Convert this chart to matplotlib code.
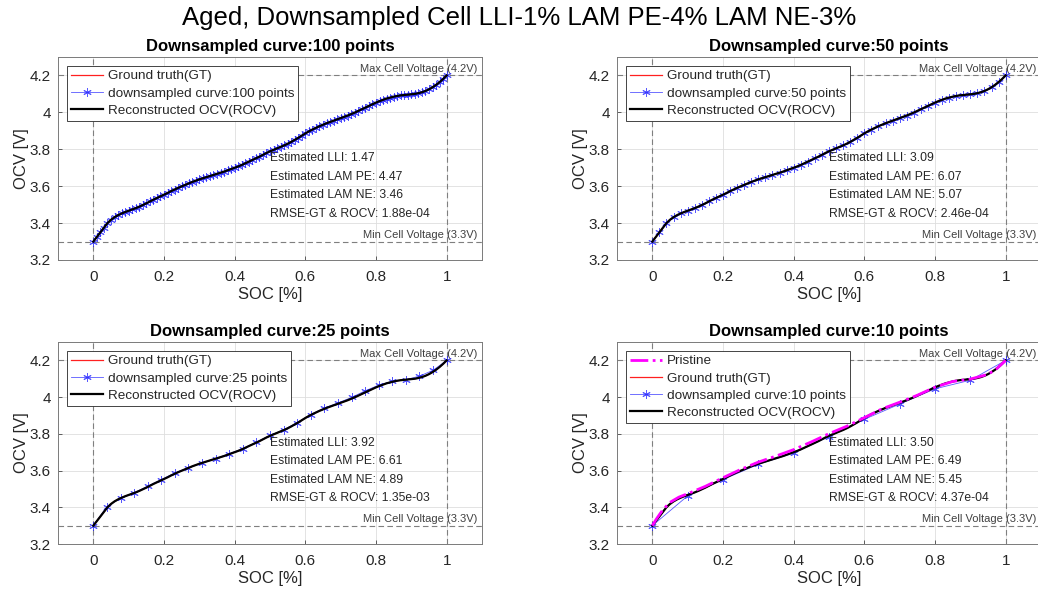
import numpy as np
import matplotlib
matplotlib.use("Agg")
import matplotlib.pyplot as plt
from matplotlib.ticker import FuncFormatter

plt.rcParams['font.family'] = ['Liberation Sans', 'DejaVu Sans']

# ---------------- data ----------------
soc_gt = np.linspace(0, 1, 101)
ocv_gt = [
    3.300, 3.325, 3.350, 3.375, 3.400, 3.418, 3.432, 3.443, 3.452, 3.460,
    3.467, 3.474, 3.481, 3.489, 3.498, 3.507, 3.517, 3.527, 3.536, 3.545,
    3.554, 3.563, 3.573, 3.582, 3.591, 3.599, 3.607, 3.615, 3.623, 3.630,
    3.637, 3.643, 3.649, 3.655, 3.661, 3.667, 3.673, 3.679, 3.686, 3.693,
    3.700, 3.707, 3.715, 3.724, 3.733, 3.742, 3.751, 3.760, 3.770, 3.780,
    3.789, 3.797, 3.805, 3.813, 3.821, 3.830, 3.840, 3.851, 3.862, 3.874,
    3.886, 3.897, 3.907, 3.916, 3.925, 3.933, 3.941, 3.948, 3.955, 3.962,
    3.969, 3.976, 3.983, 3.991, 3.999, 4.008, 4.017, 4.026, 4.035, 4.044,
    4.053, 4.061, 4.068, 4.075, 4.080, 4.085, 4.089, 4.092, 4.094, 4.096,
    4.098, 4.100, 4.104, 4.109, 4.116, 4.125, 4.136, 4.149, 4.164, 4.181,
    4.200,
]

# downsampled curve, 25 points
soc_25 = np.linspace(0, 1, 27)
ocv_25 = [3.300, 3.404, 3.449, 3.479, 3.515, 3.551, 3.587, 3.616, 3.641,
          3.665, 3.692, 3.719, 3.755, 3.791, 3.822, 3.861, 3.905, 3.941,
          3.968, 3.998, 4.034, 4.065, 4.086, 4.095, 4.114, 4.146, 4.200]

# downsampled curve, 10 points
soc_10 = np.linspace(0, 1, 11)
ocv_10 = [3.300, 3.462, 3.551, 3.634, 3.695, 3.785, 3.879, 3.962, 4.045,
          4.092, 4.200]

# pristine curve
soc_pr = [0.0, 0.01, 0.02, 0.03, 0.05, 0.075, 0.10, 0.15, 0.20, 0.25, 0.30,
          0.35, 0.40, 0.45, 0.50, 0.55, 0.60, 0.65, 0.70, 0.75, 0.80, 0.85,
          0.90, 0.95, 0.975, 1.0]
ocv_pr = [3.300, 3.332, 3.360, 3.387, 3.427, 3.455, 3.474, 3.514, 3.561,
          3.606, 3.646, 3.679, 3.714, 3.756, 3.801, 3.841, 3.888, 3.936,
          3.972, 4.010, 4.054, 4.085, 4.098, 4.124, 4.155, 4.200]

titles = ['Downsampled curve:100 points', 'Downsampled curve:50 points',
          'Downsampled curve:25 points', 'Downsampled curve:10 points']
ds_labels = ['downsampled curve:100 points', 'downsampled curve:50 points',
             'downsampled curve:25 points', 'downsampled curve:10 points']
est_lli = [1.47, 3.09, 3.92, 3.50]
est_pe = [4.47, 6.07, 6.61, 6.49]
est_ne = [3.46, 5.07, 4.89, 5.45]
rmse = [1.88e-04, 2.46e-04, 1.35e-03, 4.37e-04]

ds_x = [soc_gt, soc_gt[::2], soc_25, soc_10]
ds_y = [ocv_gt, ocv_gt[::2], ocv_25, ocv_10]

# ---------------- figure ----------------
W, H = 1038, 594
fig = plt.figure(figsize=(W / 100, H / 100), dpi=100)

def px_axes(l, t, r, b):
    return fig.add_axes([l / W, 1 - b / H, (r - l) / W, (b - t) / H])

positions = [(58, 57, 482, 260), (617, 57, 1041, 260),
             (58, 342, 482, 544), (617, 342, 1041, 544)]

fig.text(0.5, 1 - 18 / H, 'Aged, Downsampled Cell LLI-1% LAM PE-4% LAM NE-3%',
         ha='center', va='center', fontsize=18.5, color='black')

fmt = FuncFormatter(lambda v, p: '%g' % round(v, 3))
tc = '#262626'
asterisk = (6, 2, 0)

for i in range(4):
    ax = px_axes(*positions[i])
    ax.set_xlim(-0.1, 1.1)
    ax.set_ylim(3.2, 4.3)
    ax.set_xticks([0, 0.2, 0.4, 0.6, 0.8, 1.0])
    ax.set_yticks([3.2, 3.4, 3.6, 3.8, 4.0, 4.2])
    ax.xaxis.set_major_formatter(fmt)
    ax.yaxis.set_major_formatter(fmt)
    ax.tick_params(direction='in', length=3, width=0.5, labelsize=11,
                   colors=tc, pad=7)
    ax.tick_params(axis='y', pad=5)
    ax.grid(True, color='#dedede', linewidth=0.6)
    ax.set_axisbelow(True)
    for s in ax.spines.values():
        s.set_color('#7a7a7a')
        s.set_linewidth(0.7)

    # reference lines
    for xv in (0, 1):
        ax.axvline(xv, color='#7f7f7f', linestyle=(0, (5, 3)), linewidth=0.8, zorder=1)
    for yv in (3.3, 4.2):
        ax.axhline(yv, color='#7f7f7f', linestyle=(0, (5, 3)), linewidth=0.8, zorder=1)
    ax.text(1.088, 4.2 + 0.008, 'Max Cell Voltage (4.2V)', ha='right', va='bottom',
            fontsize=8, color='#404040')
    ax.text(1.088, 3.3 + 0.008, 'Min Cell Voltage (3.3V)', ha='right', va='bottom',
            fontsize=8, color='#404040')

    handles = []
    if i == 3:
        hp, = ax.plot(soc_pr, ocv_pr, color='magenta', linestyle='-.',
                      linewidth=2, zorder=6, label='Pristine')
        handles.append(hp)
    hg, = ax.plot(soc_gt, ocv_gt, color='#ff2020', linewidth=0.9, zorder=3,
                  label='Ground truth(GT)')
    hd, = ax.plot(ds_x[i], ds_y[i], color='#2020ff', linewidth=0.6,
                  marker=asterisk, markersize=6, markeredgewidth=0.7,
                  alpha=0.75, zorder=4, label=ds_labels[i])
    hr, = ax.plot(soc_gt, ocv_gt, color='black', linewidth=1.6, zorder=5,
                  label='Reconstructed OCV(ROCV)')
    handles += [hg, hd, hr]

    leg = ax.legend(handles=handles, loc='upper left', fontsize=9.7,
                    frameon=True, fancybox=False, edgecolor='#262626',
                    framealpha=1, borderaxespad=0.65, handlelength=2.4,
                    handletextpad=0.35, labelspacing=0.36, borderpad=0.3)
    leg.get_frame().set_linewidth(0.6)
    for t in leg.get_texts():
        t.set_color(tc)

    lines = ['Estimated LLI: %.2f' % est_lli[i],
             'Estimated LAM PE: %.2f' % est_pe[i],
             'Estimated LAM NE: %.2f' % est_ne[i],
             'RMSE-GT & ROCV: %.2e' % rmse[i]]
    for k, s in enumerate(lines):
        ax.text(0.5, 3.75 - 0.1 * k, s, ha='left', va='center', fontsize=8.7,
                color=tc, zorder=7)

    ax.set_title(titles[i], fontsize=12, fontweight='bold', pad=4, color='black')
    ax.set_xlabel('SOC [%]', fontsize=12, color=tc, labelpad=2)
    ax.set_ylabel('OCV [V]', fontsize=12, color=tc, labelpad=1)

fig.savefig('out.png', dpi=100)
